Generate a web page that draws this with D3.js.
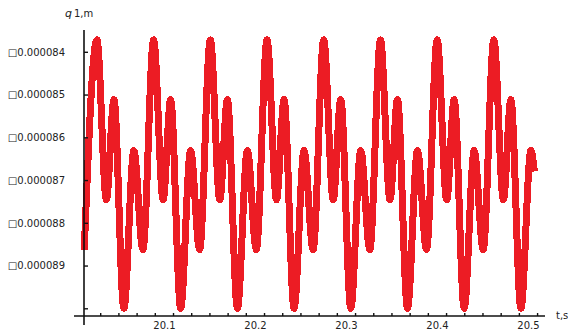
<!DOCTYPE html>
<html>
<head>
<meta charset="utf-8">
<script src="https://cdn.jsdelivr.net/npm/d3@7"></script>
<style>
  html, body { margin: 0; padding: 0; background: #fff; }
  svg { display: block; }
  text { font-family: "DejaVu Sans", sans-serif; fill: #222; }
</style>
</head>
<body>
<svg id="chart" width="568" height="333"></svg>
<script>
// time samples (s) at the turning points of the response
const times = [
  20.0125,
  20.0264, 20.0368, 20.0451, 20.0560, 20.0670, 20.0769,
  20.0887, 20.0991, 20.1074, 20.1184, 20.1293, 20.1392,
  20.1510, 20.1614, 20.1697, 20.1807, 20.1917, 20.2015,
  20.2133, 20.2237, 20.2320, 20.2430, 20.2540, 20.2639,
  20.2756, 20.2860, 20.2943, 20.3053, 20.3163, 20.3262,
  20.3379, 20.3484, 20.3566, 20.3676, 20.3786, 20.3885,
  20.4002, 20.4107, 20.4189, 20.4299, 20.4409, 20.4508,
  20.4625, 20.4730, 20.4812, 20.4922, 20.5032, 20.5070
];
// generalized coordinate q1 (m) at those times
const q1 = [
  -8.863e-5,
  -8.372e-5, -8.746e-5, -8.512e-5, -9.000e-5, -8.631e-5, -8.863e-5,
  -8.372e-5, -8.746e-5, -8.512e-5, -9.000e-5, -8.631e-5, -8.863e-5,
  -8.372e-5, -8.746e-5, -8.512e-5, -9.000e-5, -8.631e-5, -8.863e-5,
  -8.372e-5, -8.746e-5, -8.512e-5, -9.000e-5, -8.631e-5, -8.863e-5,
  -8.372e-5, -8.746e-5, -8.512e-5, -9.000e-5, -8.631e-5, -8.863e-5,
  -8.372e-5, -8.746e-5, -8.512e-5, -9.000e-5, -8.631e-5, -8.863e-5,
  -8.372e-5, -8.746e-5, -8.512e-5, -9.000e-5, -8.631e-5, -8.863e-5,
  -8.372e-5, -8.746e-5, -8.512e-5, -9.000e-5, -8.631e-5, -8.680e-5
];
// axis ticks
const yTicks = [-8.4e-5, -8.5e-5, -8.6e-5, -8.7e-5, -8.8e-5, -8.9e-5, -9.0e-5];
const yLabelled = [-8.4e-5, -8.5e-5, -8.6e-5, -8.7e-5, -8.8e-5, -8.9e-5];
const xMinorTicks = [20.03, 20.05, 20.07, 20.09, 20.11, 20.13, 20.15, 20.17, 20.19,
  20.21, 20.23, 20.25, 20.27, 20.29, 20.31, 20.33, 20.35, 20.37, 20.39,
  20.41, 20.43, 20.45, 20.47, 20.49, 20.51];
const xLabels = [20.1, 20.2, 20.3, 20.4, 20.5];

const svg = d3.select("#chart");

const x = d3.scaleLinear().domain([20.0122, 20.5187]).range([84, 545]);
const y = d3.scaleLinear().domain([-9.018e-5, -8.349e-5]).range([316, 30]);

const data = times.map((t, i) => ({ t, q: q1[i] }));

// response curve
const line = d3.line()
  .x(d => x(d.t))
  .y(d => y(d.q))
  .curve(d3.curveMonotoneX);

svg.append("path")
  .datum(data)
  .attr("d", line)
  .attr("fill", "none")
  .attr("stroke", "#ec1c24")
  .attr("stroke-width", 7)
  .attr("stroke-linejoin", "round")
  .attr("shape-rendering", "crispEdges");

// axis lines
svg.append("line")
  .attr("x1", 74).attr("x2", 545)
  .attr("y1", y.range()[0]).attr("y2", y.range()[0])
  .attr("stroke", "#111").attr("stroke-width", 1.6);
svg.append("line")
  .attr("x1", x.range()[0]).attr("x2", x.range()[0])
  .attr("y1", 30).attr("y2", 325)
  .attr("stroke", "#111").attr("stroke-width", 1.6);

// y ticks (inward) and labels
const yAxis = d3.axisLeft(y)
  .tickValues(yTicks)
  .tickSizeInner(-4)
  .tickSizeOuter(0)
  .tickPadding(19)
  .tickFormat(v => yLabelled.some(l => Math.abs(l - v) < 1e-12) ? "\u25A1" + d3.format(".6f")(Math.abs(v)) : "");
const gy = svg.append("g")
  .attr("transform", `translate(${x.range()[0]},0)`)
  .call(yAxis);
gy.select(".domain").remove();
gy.selectAll(".tick line").attr("stroke", "#111").attr("stroke-width", 1.4);
gy.selectAll(".tick text").attr("font-size", 10).attr("font-family", "DejaVu Sans, sans-serif").attr("fill", "#222");

// x minor ticks (inward)
const xAxis = d3.axisBottom(x)
  .tickValues(xMinorTicks)
  .tickSizeInner(-3)
  .tickSizeOuter(0)
  .tickFormat("");
const gx = svg.append("g")
  .attr("transform", `translate(0,${y.range()[0]})`)
  .call(xAxis);
gx.select(".domain").remove();
gx.selectAll(".tick line").attr("stroke", "#111").attr("stroke-width", 1.4);

// x labels
const xLab = d3.axisBottom(x)
  .tickValues(xLabels)
  .tickSize(0)
  .tickPadding(6)
  .tickFormat(d3.format(".1f"));
const gxl = svg.append("g")
  .attr("transform", `translate(0,${y.range()[0]})`)
  .call(xLab);
gxl.select(".domain").remove();
gxl.selectAll(".tick text").attr("font-size", 10).attr("font-family", "DejaVu Sans, sans-serif").attr("fill", "#222");

// axis titles
const yt = svg.append("text").attr("x", 65).attr("y", 17).attr("font-size", 10);
yt.append("tspan").attr("font-style", "italic").attr("font-size", 11).text("q");
yt.append("tspan").attr("dx", 2).text("1,m");

svg.append("text").attr("x", 556).attr("y", 319).attr("font-size", 10).text("t,s");
</script>
</body>
</html>
